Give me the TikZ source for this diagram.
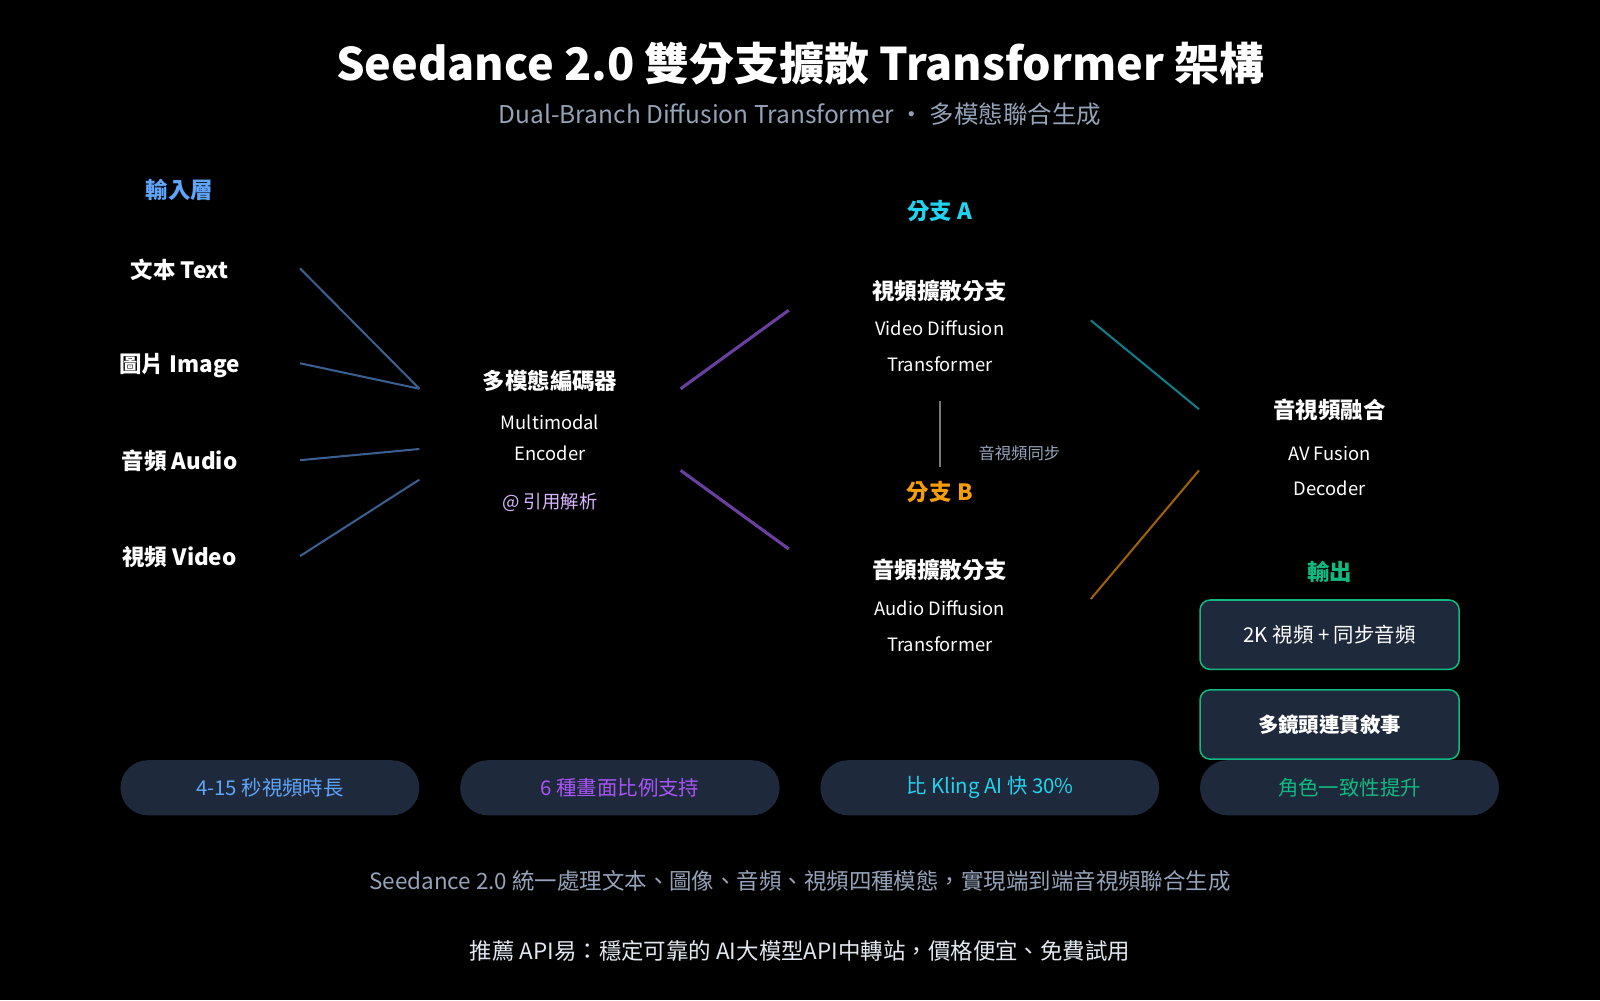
\documentclass[tikz,border=0pt]{standalone}
\usepackage{fontspec}
\setmainfont{Noto Sans CJK TC}
\begin{document}
\begin{tikzpicture}[x=1pt,y=-1pt,
  t/.style={text=white,font=\fontsize{22}{26}\selectfont\bfseries,anchor=center,inner sep=0},
  s/.style={text=white,font=\fontsize{18}{22}\selectfont,anchor=center,inner sep=0},
  inl/.style={draw=inblue,line width=2pt},
  pill/.style={fill=pillbg,rounded corners=27pt,minimum width=#1,minimum height=54pt,font=\fontsize{20}{24}\selectfont,inner sep=0},
  obox/.style={fill=pillbg,draw=outgreen,line width=1.5pt,rounded corners=10pt,minimum width=254pt,minimum height=68pt,text=white,font=\fontsize{20}{24}\selectfont,inner sep=0}]
\definecolor{inblue}{HTML}{3B5F8F}
\definecolor{pillbg}{HTML}{1E293B}
\definecolor{outgreen}{HTML}{10B981}
\definecolor{subgray}{HTML}{94A3B8}
\fill[black] (0,0) rectangle (1568,980);
\useasboundingbox (0,0) rectangle (1568,980);
\node[t,font=\fontsize{44}{50}\selectfont\bfseries] (title) at (784,62) {Seedance 2.0 雙分支擴散 Transformer 架構};
\node[s,text=subgray,font=\fontsize{24}{28}\selectfont] (sub) at (784,112) {Dual-Branch Diffusion Transformer · 多模態聯合生成};
\node[t,text=inblue!60!cyan!60!white,text={rgb,255:red,96;green,165;blue,250}] (inl) at (176,186) {輸入層};
\node[t] (txt) at (176,264) {文本 Text};
\node[t] (img) at (176,358) {圖片 Image};
\node[t] (aud) at (176,452) {音頻 Audio};
\node[t] (vid) at (176,546) {視頻 Video};
\coordinate (a1) at (294,263); \coordinate (a2) at (294,356); \coordinate (a3) at (294,451); \coordinate (a4) at (294,545);
\coordinate (e1) at (411,381); \coordinate (e2) at (411,381); \coordinate (e3) at (411,440); \coordinate (e4) at (411,470);
\draw[inl] (a1)--(e1); \draw[inl] (a2)--(e2); \draw[inl] (a3)--(e3); \draw[inl] (a4)--(e4);
\node[t] (enc) at (539,373) {多模態編碼器};
\node[s] (enc2) at (539,414) {Multimodal};
\node[s] (enc3) at (539,444) {Encoder};
\node[s,text={rgb,255:red,216;green,180;blue,254}] (ref) at (539,492) {@ 引用解析};
\coordinate (p1) at (667,381); \coordinate (p2) at (773,304); \coordinate (p3) at (667,461); \coordinate (p4) at (773,538);
\draw[draw={rgb,255:red,107;green,63;blue,160},line width=3pt] (p1)--(p2);
\draw[draw={rgb,255:red,107;green,63;blue,160},line width=3pt] (p3)--(p4);
\node[t,text={rgb,255:red,34;green,211;blue,238}] (ba) at (921,207) {分支 A};
\node[t] (vb) at (921,285) {視頻擴散分支};
\node[s] (vb2) at (921,322) {Video Diffusion};
\node[s] (vb3) at (921,357) {Transformer};
\coordinate (v1) at (921,393); \coordinate (v2) at (921,458);
\draw[draw={rgb,255:red,120;green,120;blue,120},line width=2pt] (v1)--(v2);
\node[s,text=subgray,font=\fontsize{16}{20}\selectfont] (sync) at (999,444) {音視頻同步};
\node[t,text={rgb,255:red,245;green,158;blue,11}] (bb) at (921,482) {分支 B};
\node[t] (ab) at (921,559) {音頻擴散分支};
\node[s] (ab2) at (921,596) {Audio Diffusion};
\node[s] (ab3) at (921,631) {Transformer};
\coordinate (f1) at (1069,314); \coordinate (f2) at (1175,401); \coordinate (f3) at (1069,587); \coordinate (f4) at (1175,461);
\draw[draw={rgb,255:red,14;green,127;blue,138},line width=2pt] (f1)--(f2);
\draw[draw={rgb,255:red,161;green,98;blue,7},line width=2pt] (f3)--(f4);
\node[t] (fu) at (1303,402) {音視頻融合};
\node[s] (fu2) at (1303,444) {AV Fusion};
\node[s] (fu3) at (1303,479) {Decoder};
\node[t,text=outgreen] (out) at (1303,560) {輸出};
\node[pill=293pt,text={rgb,255:red,96;green,165;blue,250}] (p1n) at (264.5,772) {4-15 秒視頻時長};
\node[pill=313pt,text={rgb,255:red,168;green,85;blue,247}] (p2n) at (607.5,772) {6 種畫面比例支持};
\node[pill=332pt,text={rgb,255:red,34;green,211;blue,238}] (p3n) at (970,772) {比 Kling AI 快 30\%};
\node[pill=293pt,text=outgreen] (p4n) at (1322.5,772) {角色一致性提升};
\node[obox] (o1) at (1303,622) {2K 視頻 + 同步音頻};
\node[obox,font=\fontsize{20}{24}\selectfont\bfseries] (o2) at (1303,710) {多鏡頭連貫敘事};
\node[s,text=subgray,font=\fontsize{22}{26}\selectfont] (foot1) at (784,863) {Seedance 2.0 統一處理文本、圖像、音頻、視頻四種模態，實現端到端音視頻聯合生成};
\node[s,text={rgb,255:red,226;green,232;blue,240},font=\fontsize{22}{26}\selectfont] (foot2) at (784,932) {推薦 API易：穩定可靠的 AI大模型API中轉站，價格便宜、免費試用};
\end{tikzpicture}
\end{document}
